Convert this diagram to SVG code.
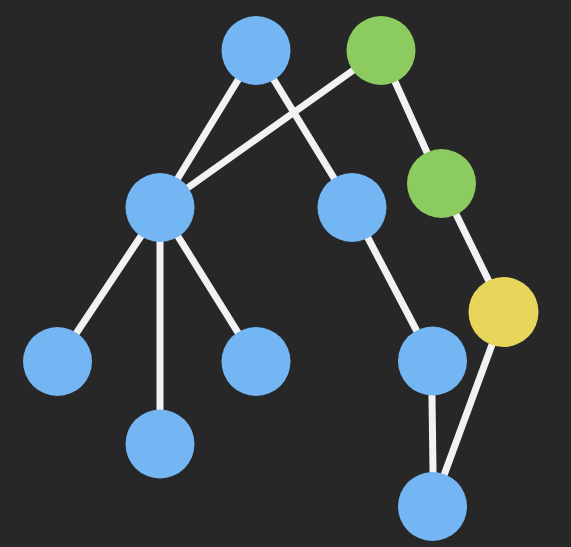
<svg xmlns="http://www.w3.org/2000/svg" width="571" height="547" viewBox="0 0 571 547">
<style>
.edge{stroke:#f2f2f2;stroke-width:7;stroke-linecap:butt;fill:none}
.node{stroke:none}
.blue{fill:#73b6f3}
.green{fill:#8bcb60}
.yellow{fill:#e8d55b}
</style>
<rect width="571" height="547" fill="#272728"/>
<g id="connectors">
<line class="edge" x1="256" y1="50.5" x2="160" y2="207.5"/>
<line class="edge" x1="256" y1="50.5" x2="352" y2="207.5"/>
<line class="edge" x1="381" y1="50.5" x2="160" y2="207.5"/>
<line class="edge" x1="381" y1="50.5" x2="441" y2="183.5"/>
<line class="edge" x1="441" y1="183.5" x2="504" y2="312"/>
<line class="edge" x1="160" y1="207.5" x2="57.5" y2="361.5"/>
<line class="edge" x1="160" y1="207.5" x2="160" y2="444"/>
<line class="edge" x1="160" y1="207.5" x2="256" y2="361.5"/>
<line class="edge" x1="352" y1="207.5" x2="432.5" y2="361"/>
<line class="edge" x1="431.5" y1="361" x2="433.5" y2="506.5"/>
<line class="edge" x1="504" y1="312" x2="432.5" y2="506.5"/>
</g>
<g id="n1"><circle class="node blue" cx="256" cy="50.5" r="34.5"/></g>
<g id="n2"><circle class="node green" cx="381" cy="50.5" r="34.5"/></g>
<g id="n3"><circle class="node blue" cx="160" cy="207.5" r="34.5"/></g>
<g id="n4"><circle class="node blue" cx="352" cy="207.5" r="34.5"/></g>
<g id="n5"><circle class="node green" cx="441.5" cy="183.5" r="34.5"/></g>
<g id="n6"><circle class="node yellow" cx="503.5" cy="312" r="35"/></g>
<g id="n7"><circle class="node blue" cx="57.5" cy="361.5" r="34.5"/></g>
<g id="n8"><circle class="node blue" cx="256" cy="361.5" r="34.5"/></g>
<g id="n9"><circle class="node blue" cx="432.5" cy="361" r="34.5"/></g>
<g id="n10"><circle class="node blue" cx="160" cy="444" r="34.5"/></g>
<g id="n11"><circle class="node blue" cx="432.5" cy="506.5" r="34.5"/></g>
</svg>
